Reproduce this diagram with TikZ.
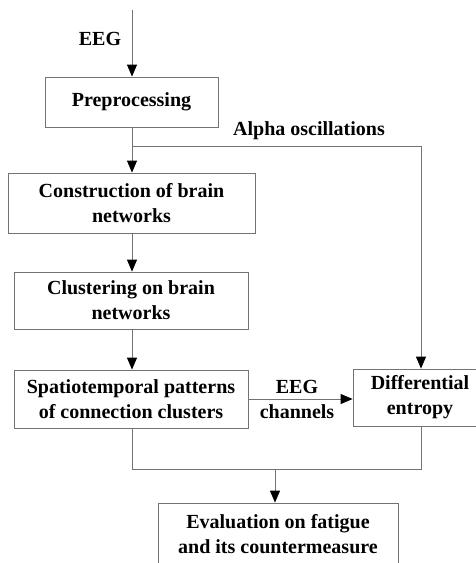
\documentclass[tikz,border=0pt]{standalone}
\usepackage{fontspec}
\setmainfont{Liberation Serif}
\usetikzlibrary{arrows.meta}
\begin{document}
\begin{tikzpicture}[x=1pt,y=-1pt,
  box/.style={draw=black!55,line width=0.8pt,rectangle,inner sep=0pt,align=center,
    font=\fontsize{20}{25}\selectfont\bfseries},
  lbl/.style={inner sep=0pt,font=\fontsize{20}{25}\selectfont\bfseries},
  conn/.style={draw=black!55,line width=0.8pt},
  arr/.style={conn,-{Triangle[length=12pt,width=10pt,color=black]}}]
\clip (0,0) rectangle (476,563);
\fill[white] (0,0) rectangle (476,563);
\node[box,minimum width=173pt,minimum height=50pt] (pre) at (131.5,102) {Preprocessing};
\node[box,minimum width=247pt,minimum height=60pt] (cons) at (131.5,203) {Construction of brain\\networks};
\node[box,minimum width=234pt,minimum height=57pt] (clus) at (131,300.5) {Clustering on brain\\networks};
\node[box,minimum width=234pt,minimum height=58pt] (spat) at (131,399) {Spatiotemporal patterns\\of connection clusters};
\node[box,minimum width=134pt,minimum height=57pt] (diff) at (420,397.5) {Differential\\entropy};
\node[box,minimum width=240pt,minimum height=63pt] (eval) at (278,534.5) {Evaluation on fatigue\\and its countermeasure};
\coordinate (in) at (132,10);
\coordinate (br) at (132,146);
\coordinate (brr) at (421,146);
\coordinate (jl) at (132,469);
\coordinate (jr) at (421,469);
\coordinate (jm) at (275,469);
\draw[arr] (in) -- (in |- pre.north);
\node[lbl] (eeg) at (100,39) {EEG};
\draw[arr] (br |- pre.south) -- (br |- cons.north);
\draw[arr] (br) -- (brr) -- (brr |- diff.north);
\node[lbl] (alpha) at (309,131) {Alpha oscillations};
\draw[arr] (br |- cons.south) -- (br |- clus.north);
\draw[arr] (br |- clus.south) -- (br |- spat.north);
\draw[arr] (spat.east) -- (spat.east -| diff.west);
\node[lbl] (eeg2) at (297,387) {EEG};
\node[lbl] (chan) at (297,412) {channels};
\draw[conn] (jl |- spat.south) -- (jl) -- (jr) -- (jr |- diff.south);
\draw[arr] (jm) -- (jm |- eval.north);
\end{tikzpicture}
\end{document}
